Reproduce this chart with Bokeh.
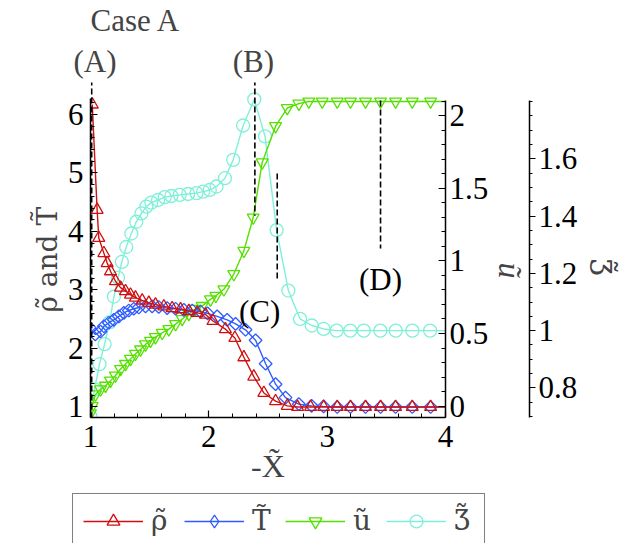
import numpy as np
from bokeh.plotting import figure
from bokeh.layouts import column
from bokeh.models import (Range1d, LinearAxis, FixedTicker, Legend, Title,
                          LegendItem, CustomJSTickFormatter)
from bokeh.embed import file_html
from bokeh.resources import INLINE
from bokeh.core.properties import value

# ---------------- data ----------------
x_rho = [1.015, 1.056, 1.07, 1.113, 1.141, 1.169, 1.211, 1.254, 1.296, 1.338,
         1.38, 1.437, 1.493, 1.549, 1.62, 1.69, 1.761, 1.831, 1.902, 1.972,
         2.035, 2.14, 2.22, 2.296, 2.38, 2.465, 2.564, 2.663, 2.75, 2.86,
         2.97, 3.085, 3.197, 3.324, 3.451, 3.578, 3.719, 3.874, 4.0]
rho = [6.17, 4.37, 3.89, 3.63, 3.46, 3.32, 3.15, 3.04, 2.98, 2.92,
       2.87, 2.82, 2.78, 2.75, 2.72, 2.69, 2.67, 2.64, 2.61, 2.58,
       2.47, 2.33, 2.18, 1.85, 1.52, 1.24, 1.10, 1.02, 1.0, 1.0,
       1.0, 1.0, 1.0, 1.0, 1.0, 1.0, 1.0, 1.0, 1.0]

x_T = [1.0, 1.04, 1.085, 1.113, 1.155, 1.197, 1.24, 1.282, 1.324, 1.366,
       1.408, 1.465, 1.521, 1.577, 1.648, 1.719, 1.789, 1.86, 1.93, 1.99,
       2.07, 2.155, 2.226, 2.31, 2.395, 2.48, 2.564, 2.648, 2.76, 2.868,
       2.97, 3.085, 3.197, 3.324, 3.451, 3.578, 3.719, 3.874, 4.0]
T = [2.34, 2.24, 2.29, 2.38, 2.44, 2.49, 2.55, 2.61, 2.65, 2.68,
     2.70, 2.72, 2.72, 2.71, 2.69, 2.68, 2.66, 2.65, 2.63, 2.60,
     2.55, 2.49, 2.42, 2.32, 2.14, 1.74, 1.39, 1.16, 1.05, 1.02,
     1.01, 1.0, 1.0, 1.0, 1.0, 1.0, 1.0, 1.0, 1.0]

x_u = [1.0, 1.014, 1.042, 1.085, 1.127, 1.169, 1.211, 1.254, 1.296, 1.338,
       1.38, 1.423, 1.465, 1.507, 1.549, 1.606, 1.662, 1.719, 1.775, 1.831,
       1.888, 1.944, 2.014, 2.06, 2.127, 2.211, 2.296, 2.375, 2.451, 2.564,
       2.663, 2.761, 2.845, 2.958, 3.085, 3.197, 3.324, 3.451, 3.578, 3.719,
       3.874, 4.0]
u = [-0.05, 0.0, 0.08, 0.115, 0.14, 0.175, 0.21, 0.255, 0.29, 0.325,
     0.36, 0.39, 0.425, 0.45, 0.475, 0.505, 0.53, 0.565, 0.60, 0.635,
     0.67, 0.69, 0.735, 0.76, 0.805, 0.91, 1.07, 1.30, 1.68, 1.93,
     2.055, 2.085, 2.10, 2.10, 2.10, 2.10, 2.10, 2.10, 2.10, 2.10,
     2.10, 2.10]

x_z = [1.0, 1.034, 1.076, 1.119, 1.161, 1.198, 1.232, 1.265, 1.302, 1.345,
       1.387, 1.43, 1.472, 1.514, 1.571, 1.627, 1.684, 1.754, 1.825, 1.896,
       1.952, 2.008, 2.065, 2.136, 2.206, 2.29, 2.384, 2.475, 2.573, 2.672,
       2.771, 2.87, 2.97, 3.08, 3.195, 3.31, 3.45, 3.58, 3.72, 3.87, 4.0]
zeta = [0.70, 0.795, 0.883, 0.953, 1.029, 1.119, 1.185, 1.24, 1.292, 1.339,
        1.38, 1.409, 1.433, 1.447, 1.456, 1.466, 1.47, 1.474, 1.477, 1.48,
        1.485, 1.491, 1.503, 1.532, 1.596, 1.716, 1.807, 1.678, 1.351, 1.14,
        1.041, 1.018, 1.006, 1.0, 1.0, 1.0, 1.0, 1.0, 1.0, 1.0, 1.0]

# annotation guides (A)-(D)
ann_x = [1.01, 2.389, 2.578, 3.451]
ann_y0 = [6.60, 6.60, 4.99, 6.24]
ann_y1 = [0.83, 4.27, 3.16, 3.71]
inner_text = ["(C)", "(D)"]
inner_x = [2.429, 3.451]
inner_y = [2.64, 3.188]
top_text = "(A)" + "\u00a0" * 15 + "(B)"

x_ticks = [1, 2, 3, 4]
left_ticks = [1, 2, 3, 4, 5, 6]
u_ticks = [0, 0.5, 1, 1.5, 2]
z_ticks = [0.8, 1.0, 1.2, 1.4, 1.6]
series_names = ["\u03c1\u0303", "T\u0303", "\u0169", "\u01b7\u0303"]

# ---------------- styling ----------------
FONT = "Liberation Serif"
FONT2 = "DejaVu Serif"
FS = "31px"
W, H_MAIN, H_LEG = 622, 490, 53
FL, FR, FT, FB = 90, 445, 82, 417

RED, BLUE, GREEN, CYAN = "#D01010", "#2F5BFF", "#55E000", "#7FF0D8"

L_LO, L_HI = 0.8205, 6.547
U_LO, U_HI = -0.0793, 2.231
Z_LO, Z_HI = 0.697, 1.866

p = figure(width=W, height=H_MAIN, output_backend="svg", toolbar_location=None,
           x_range=Range1d(1, 4), y_range=Range1d(L_LO, L_HI),
           min_border_left=FL, min_border_right=W - FR,
           min_border_top=FT, min_border_bottom=H_MAIN - FB)
p.frame_align = False
p.extra_y_ranges = {"u": Range1d(U_LO, U_HI), "z": Range1d(Z_LO, Z_HI)}
p.grid.visible = False
p.outline_line_color = None
p.background_fill_color = "white"
p.border_fill_color = "white"

# titles (above)
p.title.text = "Case A"
p.title.align = "left"
p.title.offset = 0
p.title.standoff = 4
p.title.text_font = FONT
p.title.text_font_size = FS
p.title.text_font_style = "normal"
p.title.vertical_align = "top"

t_ab = Title(text=top_text, align="left", offset=-17, standoff=4,
             text_font=FONT, text_font_size=FS, text_font_style="normal",
             vertical_align="top")
p.add_layout(t_ab, "above")

fmt = CustomJSTickFormatter(code="return String(tick);")


def style_axis(ax, tin, tout, mtin, mtout, standoff):
    ax.axis_line_color = "black"
    ax.axis_line_width = 1.5
    ax.major_tick_line_color = "black"
    ax.minor_tick_line_color = "black"
    ax.major_tick_line_width = 1.2
    ax.minor_tick_line_width = 1.0
    ax.major_tick_in = tin
    ax.major_tick_out = tout
    ax.minor_tick_in = mtin
    ax.minor_tick_out = mtout
    ax.major_label_text_font = FONT
    ax.major_label_text_font_size = FS
    ax.major_label_text_color = "black"
    ax.major_label_standoff = standoff
    ax.formatter = fmt


xax = p.xaxis[0]
xax.ticker = FixedTicker(ticks=x_ticks, minor_ticks=list(np.round(np.arange(1.0, 4.001, 0.2), 3)))
xax.bounds = (1, 4)
style_axis(xax, 7, 0, 4, 0, 8)
xax.axis_label = "-X\u0303"
xax.axis_label_text_font = FONT
xax.axis_label_text_font_style = "normal"
xax.axis_label_text_font_size = "32px"
xax.axis_label_standoff = -2

yax = p.yaxis[0]
yax.ticker = FixedTicker(ticks=left_ticks, minor_ticks=list(np.round(np.arange(0.8, 6.3, 0.2), 3)))
yax.bounds = (L_LO, 6.27)
style_axis(yax, 7, 0, 4, 0, 7)

t_left = Title(text="\u03c1\u0303 and T\u0303", align="left", offset=105, standoff=2,
               text_font=FONT2, text_font_size="28px", text_font_style="normal",
               vertical_align="bottom")
p.add_layout(t_left, "left")

ax_u = LinearAxis(y_range_name="u", bounds=(U_LO, 2.107))
ax_u.ticker = FixedTicker(ticks=u_ticks, minor_ticks=list(np.round(np.arange(-0.1, 2.15, 0.1), 3)))
style_axis(ax_u, 7, 0, 4, 0, 4)
p.add_layout(ax_u, "right")

t_u = Title(text="\u0169", align="left", offset=180, standoff=0,
            text_font=FONT, text_font_size="32px", text_font_style="italic",
            vertical_align="bottom")
p.add_layout(t_u, "right")

ax_z = LinearAxis(y_range_name="z", bounds=(Z_LO, 1.803))
ax_z.ticker = FixedTicker(ticks=z_ticks, minor_ticks=list(np.round(np.arange(0.7, 1.81, 0.05), 3)))
style_axis(ax_z, 0, 6, 0, 3, 3)
p.add_layout(ax_z, "right")

t_z = Title(text="\u01b7\u0303", align="left", offset=176, standoff=4,
            text_font=FONT2, text_font_size="30px", text_font_style="normal",
            vertical_align="bottom")
p.add_layout(t_z, "right")

# ---------------- series ----------------
LW = 1.4
p.line(x_z, zeta, color=CYAN, line_width=LW, y_range_name="z")
p.scatter(x_z[:-1], zeta[:-1], marker="circle", size=13, fill_color=None,
          line_color=CYAN, line_width=1.3, y_range_name="z")
p.line(x_u, u, color=GREEN, line_width=LW, y_range_name="u")
p.scatter(x_u[:-1], u[:-1], marker="inverted_triangle", size=12, fill_color=None,
          line_color=GREEN, line_width=1.3, y_range_name="u")
p.line(x_T, T, color=BLUE, line_width=LW)
p.scatter(x_T[:-1], T[:-1], marker="square", angle=np.pi / 4, size=9, fill_color=None,
          line_color=BLUE, line_width=1.3)
p.line(x_rho, rho, color=RED, line_width=LW)
p.scatter(x_rho[:-1], rho[:-1], marker="triangle", size=12, fill_color=None,
          line_color=RED, line_width=1.3)

# dashed guides and inner labels
p.segment(x0=ann_x, y0=ann_y0, x1=ann_x, y1=ann_y1, line_color="black",
          line_width=1.6, line_dash="6 3")
p.text(x=inner_x, y=inner_y, text=inner_text, text_font=value(FONT), text_font_size=FS,
       text_align="center", text_baseline="alphabetic", text_color="black")

# ---------------- legend strip ----------------
q = figure(width=W, height=H_LEG, output_backend="svg", toolbar_location=None,
           x_range=Range1d(-2, -1), y_range=Range1d(-2, -1),
           x_axis_type=None, y_axis_type=None,
           min_border_left=0, min_border_right=0, min_border_top=0, min_border_bottom=0)
q.frame_align = False
q.grid.visible = False
q.outline_line_color = None
q.border_fill_color = "white"
q.background_fill_color = "white"

series = [(x_rho, rho, "triangle", RED, 12, 0.0),
          (x_T, T, "diamond", BLUE, 13, 0.0),
          (x_u, u, "inverted_triangle", GREEN, 12, 0.0),
          (x_z, zeta, "circle", CYAN, 13, 0.0)]
items = []
for name, (xs, ys, mk, col, sz, ang) in zip(series_names, series):
    lr = q.line(xs, ys, color=col, line_width=LW)
    sr = q.scatter(xs, ys, marker=mk, size=sz, angle=ang, fill_color=None,
                   line_color=col, line_width=1.3)
    items.append(LegendItem(label=name, renderers=[lr, sr]))

legend = Legend(items=items, orientation="horizontal", location=(72, -5))
legend.label_text_font = FONT2
legend.label_text_font_size = "28px"
legend.glyph_width = 60
legend.glyph_height = 32
legend.label_standoff = 8
legend.spacing = 13
legend.padding = 10
legend.margin = 0
legend.border_line_color = "black"
legend.border_line_width = 1.5
legend.background_fill_color = "white"
legend.background_fill_alpha = 1.0
q.add_layout(legend, "center")

layout = column(p, q, spacing=0)
open("out.html", "w").write(file_html(layout, INLINE))
